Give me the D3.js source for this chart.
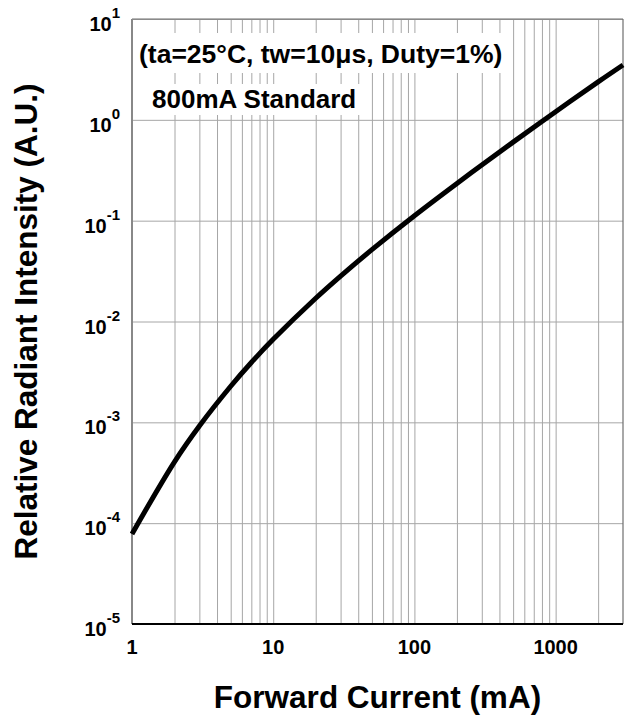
<!DOCTYPE html>
<html>
<head>
<meta charset="utf-8">
<script src="https://cdn.jsdelivr.net/npm/d3@7"></script>
<style>
  body { margin: 0; background: #fff; }
  text { font-family: Arial, "Liberation Sans", sans-serif; font-weight: bold; fill: #000; }
</style>
</head>
<body>
<div class="canvas"></div>
<script>
// curve data
const current = [1, 2, 3, 5, 7, 10, 20, 30, 50, 100, 200, 300, 500, 1000, 2000, 3000];
const intensity = [7.82e-5, 4.06e-4, 9.2e-4, 2.28e-3, 3.92e-3, 6.65e-3, 1.70e-2, 2.82e-2, 5.16e-2, 0.112, 0.234, 0.356, 0.601, 1.205, 2.38, 3.5];

// tick labels
const xTicks = [1, 10, 100, 1000];
const yExps = [1, 0, -1, -2, -3, -4, -5];

// chart dimensions
const dims = {width: 632, height: 718};
const margin = {left: 132, top: 19, right: 9, bottom: 94};
const w = dims.width - margin.left - margin.right;
const h = dims.height - margin.top - margin.bottom;

const svg = d3.select('.canvas')
    .append('svg')
    .attr('width', dims.width)
    .attr('height', dims.height);

const graph = svg.append('g')
    .attr('transform', `translate(${margin.left}, ${margin.top})`);

const x = d3.scaleLog().domain([1, 3000]).range([0, w]);
const y = d3.scaleLog().domain([1e-5, 10]).range([h, 0]);

// minor + major vertical grid (2..9 of every decade)
const gridX = [];
for (let d = 1; d <= 1000; d *= 10) {
    for (let k = 1; k <= 9; k++) {
        if (d * k > 1 && d * k < 3000) gridX.push(d * k);
    }
}

graph.append('g')
    .attr('transform', `translate(0, ${h})`)
    .call(d3.axisBottom(x).tickValues(gridX).tickSize(-h).tickFormat(''))
    .call(g => g.select('.domain').remove())
    .call(g => g.selectAll('line').attr('stroke', '#a6a6a6').attr('stroke-width', 1));

// horizontal grid, decades only
graph.append('g')
    .call(d3.axisLeft(y).tickValues(yExps.map(e => Math.pow(10, e))).tickSize(-w).tickFormat(''))
    .call(g => g.select('.domain').remove())
    .call(g => g.selectAll('line').attr('stroke', '#a6a6a6').attr('stroke-width', 1));

// white boxes behind the notes
graph.append('rect').attr('x', 2).attr('y', 14).attr('width', 372).attr('height', 40).attr('fill', '#fff');
graph.append('rect').attr('x', 16).attr('y', 65).attr('width', 214).attr('height', 31).attr('fill', '#fff');

graph.append('text')
    .attr('x', 7).attr('y', 44)
    .attr('font-size', 26.5)
    .text('(ta=25°C, tw=10μs, Duty=1%)');

graph.append('text')
    .attr('x', 20).attr('y', 89)
    .attr('font-size', 26)
    .text('800mA Standard');

// frame
graph.append('line').attr('x1', 0).attr('x2', w).attr('y1', 0).attr('y2', 0).attr('stroke', '#6e6e6e').attr('stroke-width', 1.2);
graph.append('line').attr('x1', w).attr('x2', w).attr('y1', 0).attr('y2', h).attr('stroke', '#6e6e6e').attr('stroke-width', 1.2);
graph.append('line').attr('x1', 0).attr('x2', 0).attr('y1', 0).attr('y2', h).attr('stroke', '#888').attr('stroke-width', 2);
graph.append('line').attr('x1', 0).attr('x2', w).attr('y1', h).attr('y2', h).attr('stroke', '#000').attr('stroke-width', 2);

// curve
const line = d3.line()
    .x((d, i) => x(current[i]))
    .y(d => y(d))
    .curve(d3.curveCatmullRom.alpha(0.5));

graph.append('path')
    .datum(intensity)
    .attr('d', line)
    .attr('fill', 'none')
    .attr('stroke', '#000')
    .attr('stroke-width', 5)
    .attr('stroke-linejoin', 'round');

// x tick labels
graph.selectAll('.xlab')
    .data(xTicks)
    .enter().append('text')
    .attr('x', d => x(d))
    .attr('y', h + 30)
    .attr('text-anchor', 'middle')
    .attr('font-size', 20)
    .text(d => d);

// y tick labels 10^n
yExps.forEach(e => {
    const t = graph.append('text')
        .attr('x', -12)
        .attr('y', y(Math.pow(10, e)) + 12)
        .attr('text-anchor', 'end')
        .attr('font-size', 20);
    t.append('tspan').text('10');
    t.append('tspan').attr('dy', -13).attr('font-size', 15).text(e);
});

// axis titles
svg.append('text')
    .attr('x', margin.left + w / 2)
    .attr('y', 708)
    .attr('text-anchor', 'middle')
    .attr('font-size', 31.5)
    .text('Forward Current (mA)');

svg.append('text')
    .attr('transform', `translate(37, ${margin.top + h / 2}) rotate(-90)`)
    .attr('text-anchor', 'middle')
    .attr('font-size', 31.5)
    .text('Relative Radiant Intensity (A.U.)');
</script>
</body>
</html>
